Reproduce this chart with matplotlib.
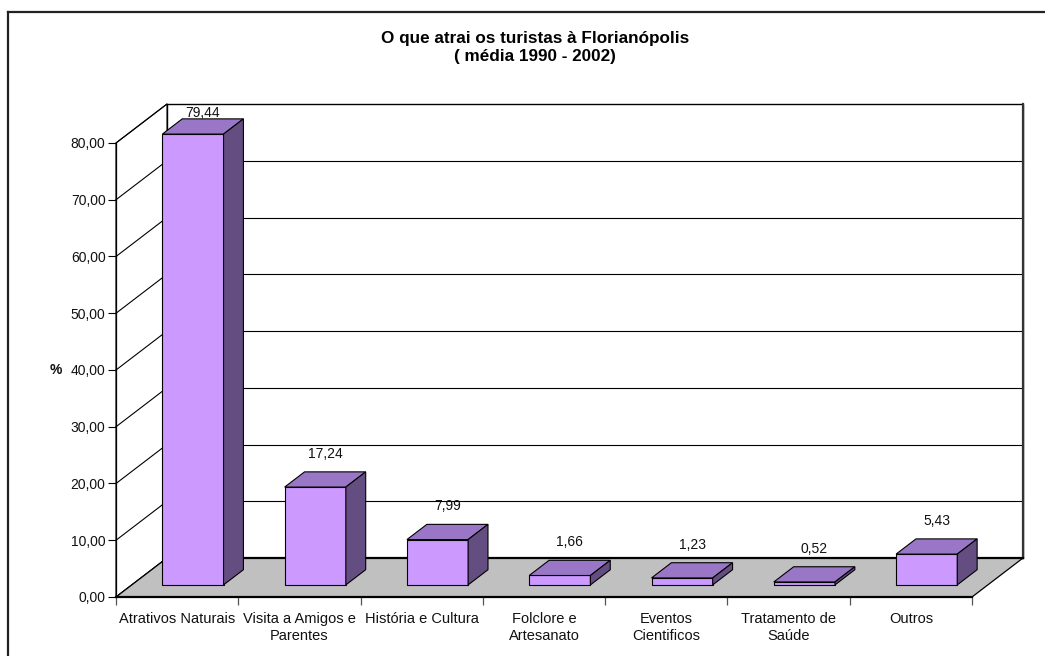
import matplotlib
matplotlib.use("Agg")
import matplotlib.pyplot as plt
from matplotlib.patches import Polygon
from matplotlib.lines import Line2D

plt.rcParams['font.family'] = ['Liberation Sans', 'DejaVu Sans']

# ---------------- data ----------------
categories = ["Atrativos Naturais", "Visita a Amigos e\nParentes", "História e Cultura",
              "Folclore e\nArtesanato", "Eventos\nCientificos", "Tratamento de\nSaúde", "Outros"]
values = [79.44, 17.24, 7.99, 1.66, 1.23, 0.52, 5.43]
yticks = [0, 10, 20, 30, 40, 50, 60, 70, 80]
title_line1 = "O que atrai os turistas à Florianópolis"
title_line2 = "( média 1990 - 2002)"
ylabel = "%"

# ---------------- style / projection ----------------
W, H = 1045, 656
DX, DY = 0.417, 6.87         # oblique depth offset (category units, value units)
Z0, Z1 = 0.31, 0.70          # bar depth range
HALF = 0.25                  # half bar width
YMAX = yticks[-1]
N = len(categories)
FRONT = "#CC99FF"
TOP = "#9A77C6"
SIDE = "#644D80"
FLOOR = "#C0C0C0"

def P(x, v, z):
    return (x + z * DX, v + z * DY)

fig = plt.figure(figsize=(W / 100, H / 100), dpi=100)
ax = fig.add_axes([116 / W, (H - 597) / H, 907 / W, 493 / H])
ax.set_xlim(0, N + DX)
ax.set_ylim(0, YMAX + DY)
ax.patch.set_visible(False)

def poly(pts, fc, ec="black", lw=0.8, z=1):
    ax.add_patch(Polygon(pts, closed=True, facecolor=fc, edgecolor=ec, linewidth=lw,
                         zorder=z, clip_on=False, joinstyle="miter"))

# back wall
poly([P(0, 0, 1), P(N, 0, 1), P(N, YMAX, 1), P(0, YMAX, 1)], "white", lw=1.0, z=1)
for t in yticks[1:-1]:
    (x0, y0), (x1, y1) = P(0, t, 1), P(N, t, 1)
    ax.plot([x0, x1], [y0, y1], color="black", lw=0.8, zorder=1.1, clip_on=False)
(xr, yr0), (_, yr1) = P(N, 0, 1), P(N, YMAX, 1)
ax.plot([xr, xr], [yr0, yr1], color="#333333", lw=1.6, zorder=1.2, clip_on=False)

# left wall
poly([P(0, 0, 0), P(0, 0, 1), P(0, YMAX, 1), P(0, YMAX, 0)], "white", lw=0.8, z=1.3)
for t in yticks:
    (x0, y0), (x1, y1) = P(0, t, 0), P(0, t, 1)
    ax.plot([x0, x1], [y0, y1], color="black", lw=0.8, zorder=1.4, clip_on=False)

# floor
poly([P(0, 0, 0), P(N, 0, 0), P(N, 0, 1), P(0, 0, 1)], FLOOR, lw=0.9, z=1.5)
(xb0, yb), (xb1, _) = P(0, 0, 1), P(N, 0, 1)
ax.plot([xb0, xb1], [yb, yb], color="black", lw=1.6, zorder=1.6, clip_on=False)

# bars
for i, v in enumerate(values):
    a, b = i + 0.5 - HALF, i + 0.5 + HALF
    poly([P(a, 0, Z0), P(b, 0, Z0), P(b, v, Z0), P(a, v, Z0)], FRONT, z=3)
    poly([P(a, v, Z0), P(b, v, Z0), P(b, v, Z1), P(a, v, Z1)], TOP, z=3)
    poly([P(b, 0, Z0), P(b, 0, Z1), P(b, v, Z1), P(b, v, Z0)], SIDE, z=3)
    lx, _ = P(i + 0.5, v, (Z0 + Z1) / 2)
    ly = min(v + Z1 * DY + 3.2, YMAX + DY - 1.6)
    ax.text(lx, ly, f"{v:.2f}".replace(".", ","), ha="center", va="center",
            fontsize=10, color="#111111", zorder=4)

# axes lines, ticks
for s in ("top", "right"):
    ax.spines[s].set_visible(False)
ax.spines["left"].set_bounds(0, YMAX)
ax.spines["left"].set_linewidth(0.9)
ax.spines["bottom"].set_bounds(0, N)
ax.spines["bottom"].set_linewidth(1.6)
ax.spines["left"].set_zorder(5)
ax.spines["bottom"].set_zorder(5)

ax.set_yticks(yticks)
ax.set_yticklabels([f"{t:.2f}".replace(".", ",") for t in yticks])
ax.tick_params(axis="y", direction="out", length=6, width=0.8, pad=1.5,
               labelsize=10, color="black", labelcolor="#111111")

ax.set_xticks(range(N + 1))
ax.set_xticklabels([""] * (N + 1))
ax.tick_params(axis="x", which="major", direction="out", length=6, width=0.9, color="#555555")
ax.set_xticks([i + 0.5 for i in range(N)], minor=True)
ax.set_xticklabels(categories, minor=True)
ax.tick_params(axis="x", which="minor", length=0, pad=10.5, labelsize=10.5, labelcolor="#111111")
for lab in ax.get_xticklabels(minor=True):
    lab.set_linespacing(1.35)
    lab.set_verticalalignment("top")

# % label
fig.text(55.5 / W, 1 - 370 / H, ylabel, ha="center", va="center", fontsize=10,
         fontweight="bold", color="#111111")

# titles
fig.text(535 / W, 1 - 38.5 / H, title_line1, ha="center", va="center", fontsize=12.3,
         fontweight="bold")
fig.text(535 / W, 1 - 57 / H, title_line2, ha="center", va="center", fontsize=12.3,
         fontweight="bold")

# outer frame
fig.add_artist(Line2D([8 / W, 1], [1 - 12 / H, 1 - 12 / H], transform=fig.transFigure,
                      color="#222222", lw=1.6))
fig.add_artist(Line2D([8 / W, 8 / W], [0, 1 - 12 / H], transform=fig.transFigure,
                      color="#222222", lw=1.6))

fig.savefig("out.png", dpi=100)
